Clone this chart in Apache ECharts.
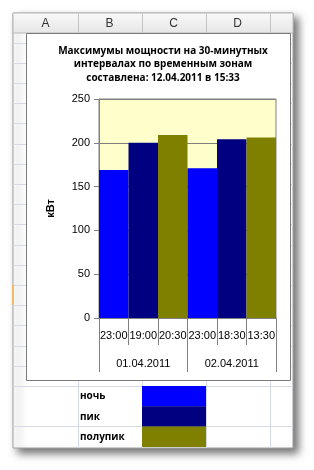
<!DOCTYPE html>
<html><head><meta charset="utf-8">
<script src="https://cdn.jsdelivr.net/npm/echarts@6/dist/echarts.min.js"></script>
<style>html,body{margin:0;padding:0;background:#fff}#c{width:314px;height:470px}</style>
</head><body><div id="c"></div>
<script>
const titleLines = ['Максимумы мощности на 30-минутных', 'интервалах по временным зонам', 'составлена: 12.04.2011 в 15:33'];
const times = ['23:00', '19:00', '20:30', '23:00', '18:30', '13:30'];
const dates = ['01.04.2011', '02.04.2011'];
const values = [169, 200, 209, 171, 204, 206];
const zones = ['ночь', 'пик', 'полупик', 'ночь', 'пик', 'полупик'];
const zoneNames = ['ночь', 'пик', 'полупик'];
const zoneColors = ['#0000FF', '#000080', '#808000'];
const yTicks = [0, 50, 100, 150, 200, 250];
const columnLetters = ['A', 'B', 'C', 'D'];
const axisName = 'кВт';

const chart = echarts.init(document.getElementById('c'), null, {renderer: 'canvas'});

const GRIDC = '#d4dbe6';
const g = [];
// sheet with shadow
g.push({type: 'rect', z: -20, shape: {x: 13, y: 13, width: 280, height: 435},
  style: {fill: '#fff', stroke: '#a0a0a0', lineWidth: 1, shadowBlur: 8, shadowOffsetX: 5, shadowOffsetY: 5, shadowColor: 'rgba(0,0,0,0.55)'}});
// row lines
for (let k = 0; k < 18; k++) {
  const y = Math.round(386 - 20.2 * k) + 0.5;
  if (y < 36) break;
  g.push({type: 'line', z: -19, shape: {x1: 13, y1: y, x2: 293, y2: y}, style: {stroke: GRIDC, lineWidth: 1}});
}
g.push({type: 'line', z: -19, shape: {x1: 13, y1: 426.5, x2: 293, y2: 426.5}, style: {stroke: GRIDC, lineWidth: 1}});
// column lines
[78, 142, 206, 270].forEach(x => {
  g.push({type: 'line', z: -19, shape: {x1: x + 0.5, y1: 33, x2: x + 0.5, y2: 448}, style: {stroke: GRIDC, lineWidth: 1}});
});
// header
g.push({type: 'rect', z: -18, shape: {x: 13, y: 13, width: 280, height: 20},
  style: {fill: new echarts.graphic.LinearGradient(0, 0, 0, 1, [{offset: 0, color: '#f9f9f9'}, {offset: 1, color: '#e6e6e6'}]), stroke: '#b8b8b8', lineWidth: 1}});
[78, 142, 206, 270].forEach(x => {
  g.push({type: 'line', z: -17, shape: {x1: x + 0.5, y1: 13, x2: x + 0.5, y2: 33}, style: {stroke: '#c4c4c4', lineWidth: 1}});
});
columnLetters.forEach((t, i) => {
  g.push({type: 'text', z: -17, x: 45.5 + 64 * i, y: 24, style: {text: t, fill: '#333', font: '12px "Liberation Sans", Arial, sans-serif', align: 'center', verticalAlign: 'middle'}});
});
// row header highlight mark
g.push({type: 'rect', z: -17, shape: {x: 12, y: 285, width: 2, height: 20}, style: {fill: '#f6b96a'}});
// chart frame
g.push({type: 'rect', z: -16, shape: {x: 26.5, y: 33.5, width: 264, height: 347}, style: {fill: '#fff', stroke: '#7a7a7a', lineWidth: 1}});
// legend cells
zoneNames.forEach((n, i) => {
  const y = 386 + 20.3 * i;
  g.push({type: 'rect', z: -15, shape: {x: 142, y: y, width: 64, height: 20.5}, style: {fill: zoneColors[i]}});
  g.push({type: 'text', z: -15, x: 80, y: y + 10.5, style: {text: n, fill: '#000', font: 'bold 10px "Open Sans", sans-serif', verticalAlign: 'middle'}});
});

const option = {
  animation: false,
  backgroundColor: '#fff',
  graphic: {elements: g},
  title: {
    text: titleLines.join('\n'),
    left: 158, top: 39, textAlign: 'center',
    textStyle: {fontFamily: '"Open Sans", sans-serif', fontWeight: 'bold', fontSize: 10, lineHeight: 13.5, color: '#000'}
  },
  grid: {left: 99, top: 99, width: 177, height: 219, show: true, backgroundColor: '#FFFFCC', borderColor: '#808080', borderWidth: 1, containLabel: false},
  xAxis: [
    {type: 'category', data: times, position: 'bottom', boundaryGap: true,
      axisLine: {show: true, lineStyle: {color: '#808080'}},
      axisTick: {show: true, length: 27, lineStyle: {color: '#808080'}},
      axisLabel: {margin: 12, fontSize: 11, color: '#000', fontFamily: '"Liberation Sans", Arial, sans-serif', interval: 0},
      splitLine: {show: false}},
    {type: 'category', data: dates, position: 'bottom', boundaryGap: true,
      axisLine: {show: false},
      axisTick: {show: true, length: 54, lineStyle: {color: '#808080'}},
      axisLabel: {margin: 40, fontSize: 11, color: '#000', fontFamily: '"Liberation Sans", Arial, sans-serif', interval: 0},
      splitLine: {show: false}}
  ],
  yAxis: {type: 'value', min: yTicks[0], max: yTicks[yTicks.length - 1], interval: yTicks[1] - yTicks[0],
    name: axisName, nameLocation: 'middle', nameRotate: 90, nameGap: 43,
    nameTextStyle: {fontWeight: 'bold', fontSize: 11, color: '#000', fontFamily: '"Liberation Sans", Arial, sans-serif'},
    axisLine: {show: true, lineStyle: {color: '#808080'}},
    axisTick: {show: true, length: 5, lineStyle: {color: '#808080'}},
    axisLabel: {margin: 9, fontSize: 11, color: '#000', fontFamily: '"Liberation Sans", Arial, sans-serif'},
    splitLine: {show: true, lineStyle: {color: '#808080', width: 1}}},
  series: [{
    type: 'bar', xAxisIndex: 0, barCategoryGap: '0%',
    data: values.map((v, i) => ({value: v, itemStyle: {color: zoneColors[zoneNames.indexOf(zones[i])]}}))
  }]
};
chart.setOption(option);
</script>
</body></html>
